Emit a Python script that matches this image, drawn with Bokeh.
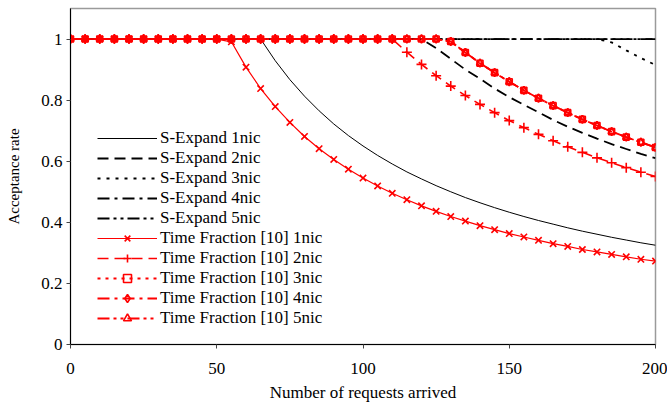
from bokeh.plotting import figure
from bokeh.models import Range1d, FixedTicker, CustomJSTickFormatter, Legend, LegendItem, ColumnDataSource
from bokeh.embed import file_html
from bokeh.resources import INLINE

# ---- data ----
x_requests = list(range(0, 201, 5))

se_1nic = [1.0] * 14 + [0.929, 0.867, 0.813, 0.765, 0.722, 0.684, 0.65, 0.619, 0.591, 0.565,
                        0.542, 0.52, 0.5, 0.481, 0.464, 0.448, 0.433, 0.419, 0.406, 0.394,
                        0.382, 0.371, 0.361, 0.351, 0.342, 0.333, 0.325]
se_2nic = [1.0] * 25 + [0.97, 0.935, 0.9, 0.87, 0.838, 0.81, 0.785, 0.76, 0.735, 0.713,
                        0.693, 0.674, 0.656, 0.64, 0.624, 0.61]
se_3nic = [1.0] * 37 + [0.989, 0.963, 0.938, 0.915]
se_4nic = [1.0] * 41
se_5nic = [1.0] * 41

tf_1nic = [1.0] * 11 + [0.991, 0.908, 0.838, 0.779, 0.727, 0.681, 0.641, 0.606, 0.574, 0.545,
                        0.519, 0.495, 0.474, 0.454, 0.436, 0.419, 0.404, 0.389, 0.376, 0.363,
                        0.352, 0.341, 0.330, 0.321, 0.311, 0.303, 0.295, 0.287, 0.279, 0.273]
tf_2nic = [1.0] * 23 + [0.957, 0.917, 0.88, 0.846, 0.815, 0.786, 0.759, 0.733, 0.71, 0.688,
                        0.667, 0.647, 0.629, 0.611, 0.595, 0.579, 0.564, 0.55]
tf_3nic = [1.0] * 26 + [0.992, 0.956, 0.921, 0.89, 0.86, 0.832, 0.806, 0.782, 0.759, 0.737,
                        0.717, 0.697, 0.679, 0.662, 0.645]
tf_4nic = [1.0] * 26 + [0.992, 0.956, 0.921, 0.89, 0.86, 0.832, 0.806, 0.782, 0.759, 0.737,
                        0.717, 0.697, 0.679, 0.662, 0.645]
tf_5nic = [1.0] * 26 + [0.992, 0.956, 0.921, 0.89, 0.86, 0.832, 0.806, 0.782, 0.759, 0.737,
                        0.717, 0.697, 0.679, 0.662, 0.645]

x_ticks = [0, 50, 100, 150, 200]
y_ticks = [0, 0.2, 0.4, 0.6, 0.8, 1.0]

FONT = "Liberation Serif"
RED = "#FF0000"

p = figure(width=667, height=407, output_backend="svg", toolbar_location=None,
           x_range=Range1d(0, 200), y_range=Range1d(0, 1.1),
           min_border_left=70, min_border_right=12, min_border_top=8, min_border_bottom=63)
p.xgrid.visible = False
p.ygrid.visible = False
p.outline_line_color = "#9a9a9a"
p.outline_line_width = 1.5
p.background_fill_color = "white"
p.border_fill_color = "white"

for ax in (p.xaxis[0], p.yaxis[0]):
    ax.axis_line_color = "black"
    ax.axis_line_width = 1
    ax.major_tick_line_color = "#444444"
    ax.major_tick_in = 0
    ax.major_tick_out = 4
    ax.minor_tick_line_color = None
    ax.major_label_text_font = FONT
    ax.major_label_text_font_size = "17px"
    ax.major_label_text_color = "black"
    ax.axis_label_text_font = FONT
    ax.axis_label_text_font_style = "normal"
    ax.axis_label_text_color = "black"

p.xaxis.ticker = FixedTicker(ticks=x_ticks)
p.yaxis.ticker = FixedTicker(ticks=y_ticks)
p.yaxis.formatter = CustomJSTickFormatter(code="return tick.toFixed(1).replace(/\\.0$/, '');")
p.xaxis.axis_label = "Number of requests arrived"
p.yaxis.axis_label = "Acceptance rate"
p.xaxis.axis_label_text_font_size = "17px"
p.yaxis.axis_label_text_font_size = "15px"
p.xaxis.major_label_standoff = 14
p.yaxis.major_label_standoff = 4
p.xaxis.axis_label_standoff = 6
p.yaxis.axis_label_standoff = 16

src = ColumnDataSource(dict(x=x_requests, se1=se_1nic, se2=se_2nic, se3=se_3nic, se4=se_4nic,
                            se5=se_5nic, tf1=tf_1nic, tf2=tf_2nic, tf3=tf_3nic, tf4=tf_4nic,
                            tf5=tf_5nic))

items = []
r = p.line("x", "se1", source=src, line_color="black", line_width=1)
items.append(LegendItem(label="S-Expand 1nic", renderers=[r]))
r = p.line("x", "se2", source=src, line_color="black", line_width=1.8, line_dash="11 6")
items.append(LegendItem(label="S-Expand 2nic", renderers=[r]))
r = p.line("x", "se3", source=src, line_color="black", line_width=1.8, line_dash="3 6")
items.append(LegendItem(label="S-Expand 3nic", renderers=[r]))
r = p.line("x", "se4", source=src, line_color="black", line_width=1.8, line_dash="12 5 3 5")
items.append(LegendItem(label="S-Expand 4nic", renderers=[r]))
r = p.line("x", "se5", source=src, line_color="black", line_width=1.8, line_dash="12 4 3 4 3 4")
items.append(LegendItem(label="S-Expand 5nic", renderers=[r]))

specs = [("tf1", "Time Fraction [10] 1nic", None, "x", 9, 1.2),
         ("tf2", "Time Fraction [10] 2nic", "11 6", "cross", 10, 1.6),
         ("tf3", "Time Fraction [10] 3nic", "3 5", "square", 6, 1.8),
         ("tf4", "Time Fraction [10] 4nic", "12 5 3 5", "diamond", 8, 1.8),
         ("tf5", "Time Fraction [10] 5nic", "12 4 3 4 3 4", "triangle", 7, 1.8)]
for col, label, dash, marker, size, lw in specs:
    kw = dict(line_color=RED, line_width=lw)
    if dash:
        kw["line_dash"] = dash
    rl = p.line("x", col, source=src, **kw)
    rm = p.scatter("x", col, source=src, marker=marker, size=size, line_color=RED,
                   line_width=1.6, fill_alpha=0)
    items.append(LegendItem(label=label, renderers=[rl, rm]))

legend = Legend(items=items, location=(27, 16), glyph_width=60, glyph_height=20,
                label_height=20, spacing=0, padding=0, margin=0, label_standoff=3,
                label_text_font=FONT, label_text_font_size="17px", label_text_color="black",
                background_fill_alpha=0, border_line_alpha=0)
p.add_layout(legend)

open("out.html", "w").write(file_html(p, INLINE))
